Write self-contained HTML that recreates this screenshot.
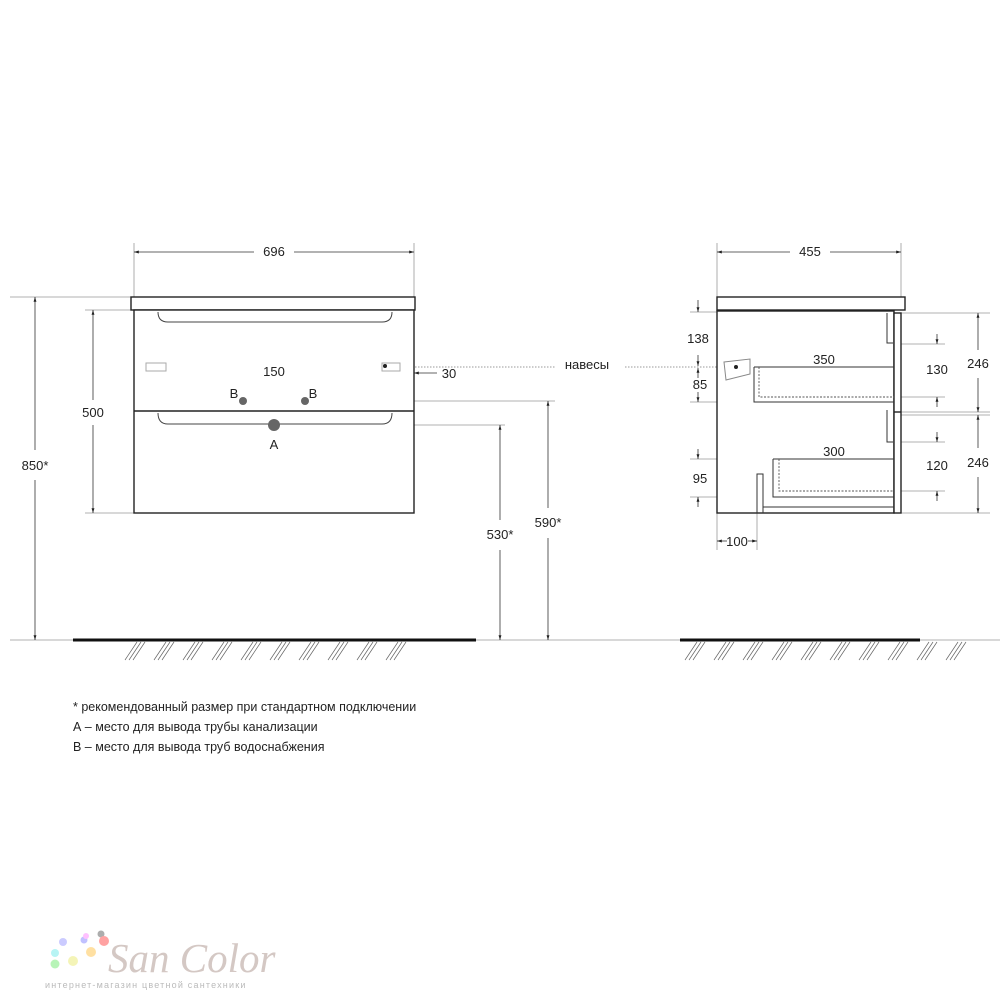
<!DOCTYPE html>
<html><head><meta charset="utf-8"><style>
html,body{margin:0;padding:0;background:#fff;width:1000px;height:1000px;overflow:hidden}
svg text{font-family:"Liberation Sans",sans-serif;fill:#222}
</style></head><body>
<svg width="1000" height="1000" viewBox="0 0 1000 1000" xmlns="http://www.w3.org/2000/svg">
<defs>
<marker id="a" viewBox="0 0 10 10" refX="10" refY="5" markerWidth="6" markerHeight="6" orient="auto-start-reverse"><path d="M0,2 L10,5 L0,8z" fill="#222"/></marker>
</defs>
<g stroke="#999" stroke-width="0.8" fill="none">
<line x1="134" y1="243" x2="134" y2="297"/><line x1="414" y1="243" x2="414" y2="297"/>
<line x1="10" y1="297" x2="131" y2="297"/>
<line x1="85" y1="310" x2="134" y2="310"/><line x1="85" y1="513" x2="134" y2="513"/>
<line x1="242" y1="401" x2="555" y2="401"/>
<line x1="275" y1="425" x2="505" y2="425"/>
<line x1="242" y1="362" x2="242" y2="408"/><line x1="305" y1="362" x2="305" y2="408"/>
<line x1="402" y1="350" x2="402" y2="380"/>
<line x1="10" y1="640" x2="1000" y2="640"/>
<line x1="717" y1="243" x2="717" y2="297"/><line x1="901" y1="243" x2="901" y2="297"/>
<line x1="690" y1="312" x2="717" y2="312"/><line x1="690" y1="402" x2="754" y2="402"/>
<line x1="690" y1="459" x2="773" y2="459"/><line x1="690" y1="497" x2="773" y2="497"/>
<line x1="754" y1="355" x2="754" y2="367"/><line x1="773" y1="447" x2="773" y2="459"/>
<line x1="901" y1="313" x2="990" y2="313"/><line x1="901" y1="412" x2="990" y2="412"/><line x1="901" y1="415" x2="990" y2="415"/><line x1="901" y1="513" x2="990" y2="513"/>
<line x1="894" y1="344" x2="945" y2="344"/><line x1="894" y1="397" x2="945" y2="397"/>
<line x1="894" y1="442" x2="945" y2="442"/><line x1="894" y1="491" x2="945" y2="491"/>
<line x1="717" y1="513" x2="717" y2="550"/><line x1="757" y1="513" x2="757" y2="550"/>
</g>
<g stroke="#333" stroke-width="0.8" fill="none" marker-start="url(#a)" marker-end="url(#a)">
<line x1="134" y1="252" x2="254" y2="252" marker-end="none"/><line x1="294" y1="252" x2="414" y2="252" marker-start="none"/>
<line x1="35" y1="297" x2="35" y2="450" marker-end="none"/><line x1="35" y1="480" x2="35" y2="640" marker-start="none"/>
<line x1="93" y1="310" x2="93" y2="400" marker-end="none"/><line x1="93" y1="425" x2="93" y2="513" marker-start="none"/>
<line x1="500" y1="425" x2="500" y2="520" marker-end="none"/><line x1="500" y1="550" x2="500" y2="640" marker-start="none"/>
<line x1="548" y1="401" x2="548" y2="508" marker-end="none"/><line x1="548" y1="538" x2="548" y2="640" marker-start="none"/>
<line x1="717" y1="252" x2="790" y2="252" marker-end="none"/><line x1="830" y1="252" x2="901" y2="252" marker-start="none"/>
<line x1="754" y1="360" x2="798" y2="360" marker-end="none"/><line x1="849" y1="360" x2="894" y2="360" marker-start="none"/>
<line x1="773" y1="452" x2="808" y2="452" marker-end="none"/><line x1="860" y1="452" x2="894" y2="452" marker-start="none"/>
<line x1="978" y1="313" x2="978" y2="350" marker-end="none"/><line x1="978" y1="378" x2="978" y2="412" marker-start="none"/>
<line x1="978" y1="415" x2="978" y2="448" marker-end="none"/><line x1="978" y1="477" x2="978" y2="513" marker-start="none"/>
<line x1="242" y1="372" x2="258" y2="372" marker-end="none"/><line x1="290" y1="372" x2="305" y2="372" marker-start="none"/>
</g>
<g stroke="#333" stroke-width="0.8" fill="none" marker-end="url(#a)">
<line x1="437" y1="373" x2="414" y2="373"/>
<line x1="698" y1="300" x2="698" y2="312"/><line x1="698" y1="355" x2="698" y2="366"/>
<line x1="698" y1="378" x2="698" y2="368"/><line x1="698" y1="392" x2="698" y2="402"/>
<line x1="698" y1="449" x2="698" y2="459"/><line x1="698" y1="507" x2="698" y2="497"/>
<line x1="937" y1="334" x2="937" y2="344"/><line x1="937" y1="407" x2="937" y2="397"/>
<line x1="937" y1="432" x2="937" y2="442"/><line x1="937" y1="501" x2="937" y2="491"/>
<line x1="727" y1="541" x2="717" y2="541"/><line x1="748" y1="541" x2="757" y2="541"/>
</g>
<g stroke="#999" stroke-width="1" stroke-dasharray="1.5,1.5">
<line x1="388" y1="367" x2="555" y2="367"/><line x1="625" y1="367" x2="745" y2="367"/>
</g>
<g stroke="#222" stroke-width="1.4" fill="#fff">
<rect x="131" y="297" width="284" height="13"/>
<rect x="134" y="310" width="280" height="203"/>
<line x1="134" y1="411" x2="414" y2="411"/>
</g>
<g stroke="#444" stroke-width="1" fill="none">
<path d="M158,312 Q158,322 168,322 L382,322 Q392,322 392,312"/>
<path d="M158,413 Q158,424 168,424 L382,424 Q392,424 392,413"/>
<rect x="146" y="363" width="20" height="8" stroke="#aaa"/>
<rect x="382" y="363" width="18" height="8" stroke="#aaa"/>
</g>
<circle cx="385" cy="366" r="2" fill="#222"/>
<g fill="#666"><circle cx="243" cy="401" r="4"/><circle cx="305" cy="401" r="4"/><circle cx="274" cy="425" r="6"/></g>
<g stroke="#222" stroke-width="1.4" fill="#fff">
<rect x="717" y="297" width="188" height="13"/>
<rect x="717" y="311" width="177" height="202"/>
<rect x="894" y="313" width="7" height="200"/>
<line x1="894" y1="412" x2="901" y2="412"/>
</g>
<g stroke="#333" stroke-width="1" fill="none">
<path d="M887,313 V343 H893"/><path d="M887,410 V442 H893"/>
<path d="M754,367 H894 M754,367 V402 H894"/>
<path d="M773,459 H894 M773,459 V497 H894"/>
<path d="M763,513 V474 H757 V513 M763,507 H894"/>
<path d="M724,362 L750,359 L750,374 L726,380 Z" stroke="#888"/>
</g>
<circle cx="736" cy="367" r="2" fill="#222"/>
<g stroke="#555" stroke-width="0.9" stroke-dasharray="2,1.5" fill="none">
<path d="M759,367 V397 H894"/><path d="M779,459 V491 H894"/>
</g>
<line x1="73" y1="640" x2="476" y2="640" stroke="#111" stroke-width="3"/>
<line x1="680" y1="640" x2="920" y2="640" stroke="#111" stroke-width="3"/>
<g stroke="#666" stroke-width="0.7" id="h">
<path d="M125,660 l12,-18 M129,660 l12,-18 M133,660 l12,-18 M154,660 l12,-18 M158,660 l12,-18 M162,660 l12,-18 M183,660 l12,-18 M187,660 l12,-18 M191,660 l12,-18 M212,660 l12,-18 M216,660 l12,-18 M220,660 l12,-18 M241,660 l12,-18 M245,660 l12,-18 M249,660 l12,-18 M270,660 l12,-18 M274,660 l12,-18 M278,660 l12,-18 M299,660 l12,-18 M303,660 l12,-18 M307,660 l12,-18 M328,660 l12,-18 M332,660 l12,-18 M336,660 l12,-18 M357,660 l12,-18 M361,660 l12,-18 M365,660 l12,-18 M386,660 l12,-18 M390,660 l12,-18 M394,660 l12,-18"/>
</g>
<use href="#h" x="560"/>
<g font-size="13" text-anchor="middle">
<text x="274" y="256">696</text>
<text x="35" y="470">850*</text>
<text x="93" y="417">500</text>
<text x="500" y="539">530*</text>
<text x="548" y="527">590*</text>
<text x="274" y="376">150</text>
<text x="234" y="398">B</text><text x="313" y="398">B</text>
<text x="274" y="449">A</text>
<text x="449" y="378">30</text>
<text x="587" y="369">навесы</text>
<text x="810" y="256">455</text>
<text x="698" y="343">138</text>
<text x="700" y="389">85</text>
<text x="700" y="483">95</text>
<text x="824" y="364">350</text>
<text x="834" y="456">300</text>
<text x="937" y="374">130</text>
<text x="937" y="470">120</text>
<text x="978" y="368">246</text>
<text x="978" y="467">246</text>
<text x="737" y="546">100</text>
</g>
<g font-size="12.5">
<text x="73" y="711">* рекомендованный размер при стандартном подключении</text>
<text x="73" y="731">А – место для вывода трубы канализации</text>
<text x="73" y="751">В – место для вывода труб водоснабжения</text>
</g>
<g opacity="0.6">
<circle cx="84" cy="940" r="3.5" fill="#99f"/><circle cx="86" cy="936" r="3" fill="#f9f"/>
<circle cx="63" cy="942" r="4" fill="#aaf"/><circle cx="55" cy="953" r="4" fill="#8ee"/>
<circle cx="55" cy="964" r="4.5" fill="#8e8"/><circle cx="73" cy="961" r="5" fill="#ee8"/>
<circle cx="91" cy="952" r="5" fill="#fc6"/><circle cx="101" cy="934" r="3.5" fill="#777"/><circle cx="104" cy="941" r="5" fill="#f66"/>
</g>
<text x="108" y="972" font-size="41" font-style="italic" style="font-family:'Liberation Serif',serif;fill:#d4c8c4">San Color</text>
<text x="45" y="988" font-size="9" style="fill:#bbb;letter-spacing:1.2px">интернет-магазин цветной сантехники</text>
</svg>
</body></html>
